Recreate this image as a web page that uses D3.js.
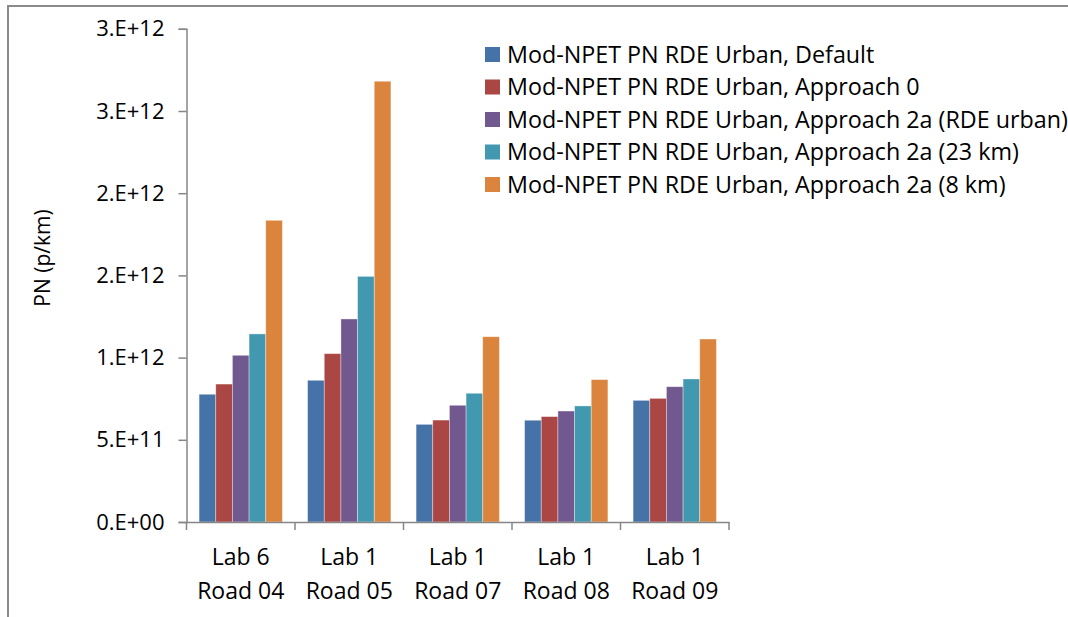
<!DOCTYPE html>
<html>
<head>
<meta charset="utf-8">
<script src="https://cdn.jsdelivr.net/npm/d3@7"></script>
<style>
  html, body { margin: 0; padding: 0; background: #fff; }
  svg { display: block; font-family: "Open Sans", sans-serif; }
</style>
</head>
<body>
<svg id="chart" width="1068" height="617"></svg>
<script>
// Test routes (two-line category labels)
const categories = ["Lab 6|Road 04", "Lab 1|Road 05", "Lab 1|Road 07", "Lab 1|Road 08", "Lab 1|Road 09"];

// Series names
const seriesNames = [
  "Mod-NPET PN RDE Urban, Default",
  "Mod-NPET PN RDE Urban, Approach 0",
  "Mod-NPET PN RDE Urban, Approach 2a (RDE urban)",
  "Mod-NPET PN RDE Urban, Approach 2a (23 km)",
  "Mod-NPET PN RDE Urban, Approach 2a (8 km)"
];

// PN emissions (particles/km), one array per series, ordered like categories
const pnDefault   = [0.777e12, 0.862e12, 0.594e12, 0.619e12, 0.740e12];
const pnApproach0 = [0.839e12, 1.024e12, 0.620e12, 0.641e12, 0.752e12];
const pnApp2aRDE  = [1.014e12, 1.235e12, 0.710e12, 0.675e12, 0.823e12];
const pnApp2a23   = [1.144e12, 1.494e12, 0.783e12, 0.706e12, 0.870e12];
const pnApp2a8    = [1.835e12, 2.681e12, 1.127e12, 0.866e12, 1.113e12];

const seriesValues = [pnDefault, pnApproach0, pnApp2aRDE, pnApp2a23, pnApp2a8];
const seriesColors = ["#4572A7", "#AA4643", "#71588F", "#4198AF", "#DB843D"];

// Y axis tick values
const yTicks = [0, 5e11, 1e12, 1.5e12, 2e12, 2.5e12, 3e12];

const svg = d3.select("#chart");
const tickFont = 22;
const catFont = 23;
const legendFont = 23.3;

// Outer frame
svg.append("rect")
  .attr("x", 8).attr("y", 6)
  .attr("width", 1200).attr("height", 800)
  .attr("fill", "none")
  .attr("stroke", "#8a8a8a")
  .attr("stroke-width", 2);

const plot = { left: 186.5, right: 729, top: 28.8, bottom: 522 };

const x = d3.scaleBand()
  .domain(categories)
  .range([plot.left, plot.right])
  .padding(0);

const xInner = d3.scaleBand()
  .domain(d3.range(seriesNames.length))
  .range([12.6, x.bandwidth() - 12.6])
  .padding(0);

const y = d3.scaleLinear()
  .domain([0, 3e12])
  .range([plot.bottom, plot.top]);

// Scientific format with no decimals, e.g. 2.E+12
function sciFmt(v) {
  if (v === 0) return "0.E+00";
  const e = Math.floor(Math.log10(v));
  const m = Math.round(v / Math.pow(10, e));
  return m + ".E+" + String(e).padStart(2, "0");
}

const axisColor = "#868686";

// Bars
const rows = [];
seriesValues.forEach((vals, si) => {
  vals.forEach((v, ci) => rows.push({ si, cat: categories[ci], v }));
});

svg.append("g").selectAll("rect")
  .data(rows)
  .join("rect")
  .attr("x", d => x(d.cat) + xInner(d.si))
  .attr("y", d => y(d.v))
  .attr("width", xInner.bandwidth())
  .attr("height", d => y(0) - y(d.v))
  .attr("fill", d => seriesColors[d.si])
  .attr("stroke", "#ffffff")
  .attr("stroke-opacity", 0.45)
  .attr("stroke-width", 0.8);

// Y axis
const yAxis = svg.append("g")
  .attr("transform", `translate(${plot.left},0)`)
  .call(d3.axisLeft(y).tickValues(yTicks).tickFormat(sciFmt).tickSize(8).tickPadding(14));
yAxis.select(".domain").attr("stroke", axisColor).attr("stroke-width", 1.5);
yAxis.selectAll(".tick line").attr("stroke", axisColor).attr("stroke-width", 1.5);
yAxis.selectAll(".tick text")
  .attr("fill", "#000")
  .style("font-family", "'Open Sans', sans-serif")
  .style("font-size", tickFont + "px");

// X axis
const xAxis = svg.append("g")
  .attr("transform", `translate(0,${plot.bottom})`)
  .call(d3.axisBottom(x).tickSize(0).tickFormat(""));
xAxis.select(".domain").attr("stroke", axisColor).attr("stroke-width", 1.5);

// Category boundary ticks
const boundaries = categories.map(c => x(c)).concat([x(categories[categories.length - 1]) + x.bandwidth()]);
xAxis.selectAll(".boundary")
  .data(boundaries)
  .join("line")
  .attr("class", "boundary")
  .attr("x1", d => d).attr("x2", d => d)
  .attr("y1", 0).attr("y2", 8)
  .attr("stroke", axisColor)
  .attr("stroke-width", 1.5);

// Category labels (two lines)
const catLabels = svg.append("g")
  .selectAll("text")
  .data(categories)
  .join("text")
  .attr("text-anchor", "middle")
  .attr("font-size", catFont)
  .attr("fill", "#000");
catLabels.each(function(d) {
  const parts = d.split("|");
  const t = d3.select(this);
  parts.forEach((p, i) => {
    t.append("tspan")
      .attr("x", x(d) + x.bandwidth() / 2)
      .attr("y", 565 + i * 33.5)
      .text(p);
  });
});

// Y axis title
svg.append("text")
  .attr("transform", "translate(50,258) rotate(-90)")
  .attr("text-anchor", "middle")
  .attr("font-size", 21)
  .attr("fill", "#000")
  .text("PN (p/km)");

// Legend
const legend = svg.append("g").attr("transform", "translate(485,47)");
const items = legend.selectAll("g")
  .data(seriesNames)
  .join("g")
  .attr("transform", (d, i) => `translate(0,${i * 32.5})`);
items.append("rect")
  .attr("width", 15).attr("height", 15)
  .attr("fill", (d, i) => seriesColors[i]);
items.append("text")
  .attr("x", 22)
  .attr("y", 7.5)
  .attr("dy", "0.35em")
  .attr("font-size", legendFont)
  .attr("fill", "#000")
  .text(d => d);
</script>
</body>
</html>
